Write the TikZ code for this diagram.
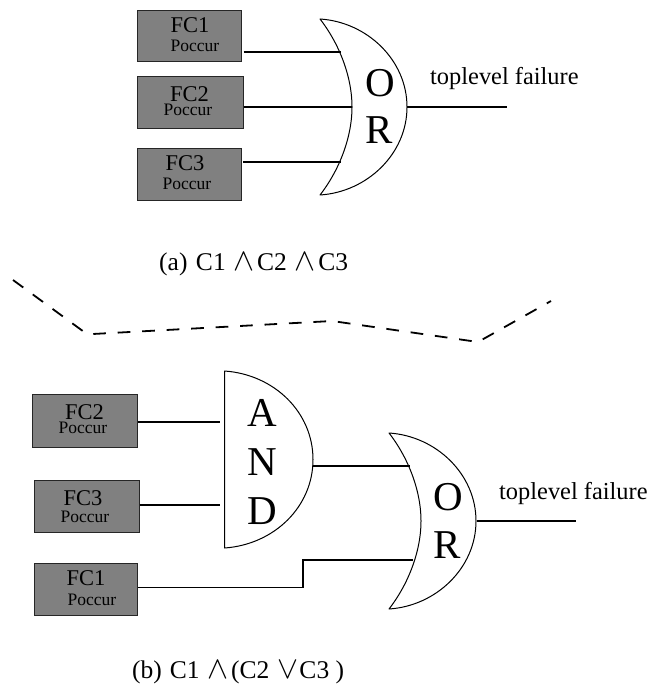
\documentclass[tikz,border=0pt]{standalone}
\usepackage{graphicx}
\usepackage{fontspec}
\setmainfont{Liberation Serif}
\newcommand{\capand}{\hspace{1.5pt}\resizebox{21pt}{17.5pt}{$\wedge$}\hspace{2.6pt}}
\newcommand{\capor}{\hspace{1.5pt}\resizebox{21pt}{17.5pt}{$\vee$}\hspace{1.2pt}}
\tikzset{
  fcbox/.style={draw=black!85, fill=black!50, line width=1pt, inner sep=0pt},
  fctext/.style={anchor=base, inner sep=0pt, font=\fontsize{22.5}{22.5}\selectfont},
  occtext/.style={anchor=base, inner sep=0pt, font=\fontsize{17.5}{17.5}\selectfont},
  gatetext/.style={anchor=base, inner sep=0pt, font=\fontsize{41}{41}\selectfont},
  labeltext/.style={anchor=base west, inner sep=0pt, font=\fontsize{24.4}{24.4}\selectfont},
  captext/.style={anchor=base west, inner sep=0pt, font=\fontsize{25.5}{25.5}\selectfont},
  wire/.style={line width=1.1pt},
  gateline/.style={line width=1pt, fill=white, line join=round},
  orgate/.pic={
    \draw[gateline] (0,-88) .. controls (47,-85) and (87,-47) .. (87,0)
      .. controls (87,47) and (47,85) .. (0,88)
      .. controls (18,65) and (32,32) .. (32,0)
      .. controls (32,-32) and (18,-65) .. (0,-88) -- cycle;
  },
  andgate/.pic={
    \draw[gateline] (0,-88.5) .. controls (50,-85) and (88.5,-47) .. (88.5,0)
      .. controls (88.5,47) and (50,85) .. (0,88.5) -- cycle;
  }
}
\begin{document}
\begin{tikzpicture}[x=1pt,y=-1pt]
\useasboundingbox (0,0) rectangle (650,684);

% upper circuit
\node[fcbox, minimum width=103.5pt, minimum height=51pt] (boxa) at (189.25,36.5) {};
\node[fcbox, minimum width=105.5pt, minimum height=52pt] (boxb) at (190.25,103) {};
\node[fcbox, minimum width=104.5pt, minimum height=52pt] (boxc) at (189.25,175) {};
\node[fctext] (fca) at (190,33) {FC1};
\node[occtext] (occa) at (195,52) {Poccur};
\node[fctext] (fcb) at (189.5,101.7) {FC2};
\node[occtext] (occb) at (188,116) {Poccur};
\node[fctext] (fcc) at (185,170.7) {FC3};
\node[occtext] (occc) at (187,190) {Poccur};

\pic at (320,107) {orgate};
\node[gatetext] (ora) at (380,96.7) {O};
\node[gatetext] (orb) at (379,144) {R};
\coordinate (orina) at (341,52);
\coordinate (orinb) at (352,107);
\coordinate (orinc) at (341,162);
\coordinate (orout) at (407,107);
\coordinate (orend) at (507,107);
\draw[wire] (boxa.east |- orina) ++(2,0) -- (orina);
\draw[wire] (boxb.east |- orinb) -- (orinb);
\draw[wire] (boxc.east |- orinc) ++(1,0) -- (orinc);
\draw[wire] (orout) -- (orend);
\node[labeltext] (failtop) at (430,85) {toplevel failure};
\node[captext] (capa) at (159,270) {(a)\hspace{8.5pt}C1 {\capand}C2 {\capand}C3};

% dashed separator
\coordinate (sepa) at (13,280);
\coordinate (sepb) at (87.3,334.3);
\coordinate (sepc) at (332,321);
\coordinate (sepd) at (478,342);
\coordinate (sepe) at (551,301);
\draw[line width=1.8pt, dash pattern=on 12.7pt off 11.8pt] (sepa) -- (sepb) -- (sepc) -- (sepd) -- (sepe);

% lower circuit
\node[fcbox, minimum width=105pt, minimum height=52.5pt] (boxd) at (85,420.75) {};
\node[fcbox, minimum width=105pt, minimum height=52pt] (boxe) at (86.5,506) {};
\node[fcbox, minimum width=103.5pt, minimum height=52pt] (boxf) at (85.75,589) {};
\node[fctext] (fcd) at (84.5,419.3) {FC2};
\node[occtext] (occd) at (83,433) {Poccur};
\node[fctext] (fce) at (83,505) {FC3};
\node[occtext] (occe) at (85,522) {Poccur};
\node[fctext] (fcf) at (86,585) {FC1};
\node[occtext] (occf) at (92,605) {Poccur};

\pic at (224.5,459.5) {andgate};
\node[gatetext] (anda) at (262.5,426) {A};
\node[gatetext] (andb) at (262.5,475) {N};
\node[gatetext] (andc) at (262.5,524) {D};
\coordinate (andina) at (220,422);
\coordinate (andinb) at (220,505);
\coordinate (andout) at (313,466);

\pic at (389,521) {orgate};
\node[gatetext] (orc) at (448,510.7) {O};
\node[gatetext] (ord) at (447.5,558) {R};
\coordinate (orind) at (409.5,466);
\coordinate (orine) at (413,560);
\coordinate (stepa) at (303,587.5);
\coordinate (stepb) at (303,560);
\coordinate (oroutb) at (477,521);
\coordinate (orendb) at (576,521);
\draw[wire] (boxd.east |- andina) -- (andina);
\draw[wire] (boxe.east |- andinb) -- (andinb);
\draw[wire] (andout) -- (orind);
\draw[wire] (boxf.east |- stepa) -- (stepa) -- (stepb) -- (orine);
\draw[wire] (oroutb) -- (orendb);
\node[labeltext] (failbot) at (499,499) {toplevel failure};
\node[captext] (capb) at (132,678) {(b)\hspace{8pt}C1 {\capand}(C2 {\capor}C3 )};
\end{tikzpicture}
\end{document}
